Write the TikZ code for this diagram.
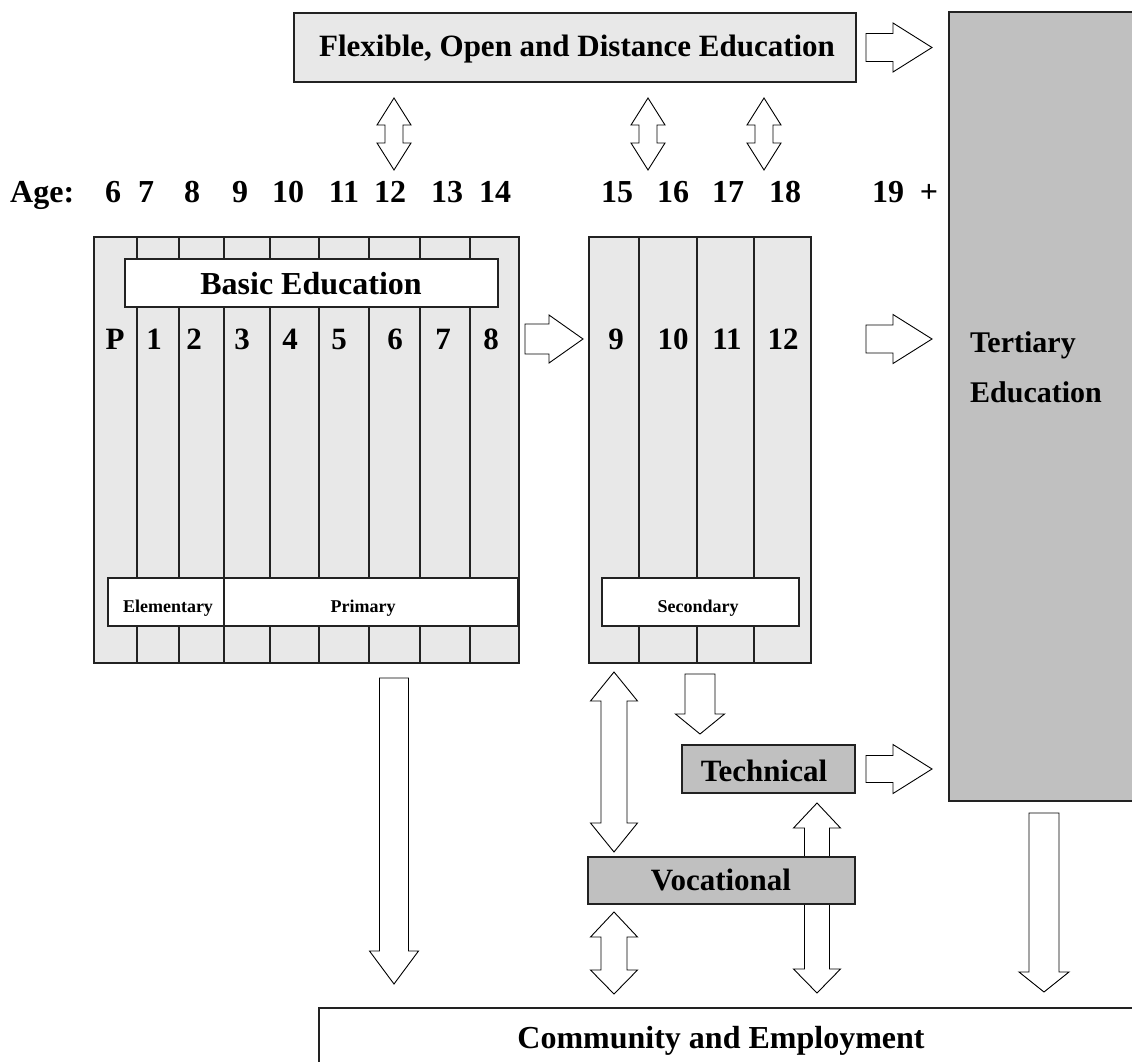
\documentclass[tikz,border=0pt]{standalone}
\usepackage{fontspec}
\setmainfont{Liberation Serif}
\definecolor{lightg}{HTML}{E8E8E8}
\definecolor{midg}{HTML}{C0C0C0}
\definecolor{edgec}{HTML}{222222}
\tikzset{
  edge/.style={draw=edgec, line width=1.3pt},
  lightbox/.style={edge, fill=lightg, inner sep=0pt},
  darkbox/.style={edge, fill=midg, inner sep=0pt},
  whitebox/.style={edge, fill=white, inner sep=0pt},
  colline/.style={draw=edgec, line width=1.1pt},
  blockarr/.style={draw=black, line width=0.9pt, fill=white, line join=miter},
  txt/.style={inner sep=0pt, anchor=base, font=\bfseries\fontsize{#1}{#1}\selectfont},
  txt/.default=32
}
% right-pointing block arrow: x start, x tip, y centre, body half, head half, head length
\newcommand\ArrR[6]{%
  \draw[blockarr] ({#1},{#3-#4}) -- ({#2-#6},{#3-#4}) -- ({#2-#6},{#3-#5}) -- ({#2},{#3})
    -- ({#2-#6},{#3+#5}) -- ({#2-#6},{#3+#4}) -- ({#1},{#3+#4}) -- cycle;}
% down-pointing block arrow: x centre, y start, y tip, body half, head half, head length
\newcommand\ArrD[6]{%
  \draw[blockarr] ({#1-#4},{#2}) -- ({#1+#4},{#2}) -- ({#1+#4},{#3-#6}) -- ({#1+#5},{#3-#6})
    -- ({#1},{#3}) -- ({#1-#5},{#3-#6}) -- ({#1-#4},{#3-#6}) -- cycle;}
% vertical double block arrow: x centre, y top tip, y bottom tip, body half, head half, top head len, bottom head len
\newcommand\ArrUD[7]{%
  \draw[blockarr] ({#1},{#2}) -- ({#1+#5},{#2+#6}) -- ({#1+#4},{#2+#6}) -- ({#1+#4},{#3-#7})
    -- ({#1+#5},{#3-#7}) -- ({#1},{#3}) -- ({#1-#5},{#3-#7}) -- ({#1-#4},{#3-#7})
    -- ({#1-#4},{#2+#6}) -- ({#1-#5},{#2+#6}) -- cycle;}
\begin{document}
\begin{tikzpicture}[x=1pt,y=-1pt]
\useasboundingbox (0,0) rectangle (1132,1062);
\clip (0,0) rectangle (1132,1062);

% main boxes
\node[lightbox, minimum width=562pt, minimum height=69pt] (flex) at (575,47.5) {};
\node[darkbox, minimum width=201pt, minimum height=789pt] (tert) at (1049.5,406.5) {};
\node[whitebox, minimum width=831pt, minimum height=72pt] (comm) at (734.5,1044) {};
\node[lightbox, minimum width=425pt, minimum height=426pt] (basic) at (306.5,450) {};
\node[lightbox, minimum width=222pt, minimum height=426pt] (sec) at (700,450) {};

% column lines
\foreach \cx in {137,179,224,270,319,369,420,470}
  \draw[colline] (\cx,237) -- (\cx,663);
\foreach \cx in {639,697,754}
  \draw[colline] (\cx,237) -- (\cx,663);

% white label boxes
\node[whitebox, minimum width=373pt, minimum height=48pt] (basiced) at (311.5,283) {};
\node[whitebox, minimum width=116pt, minimum height=48pt] (elem) at (166,602) {};
\node[whitebox, minimum width=294pt, minimum height=48pt] (prim) at (371,602) {};
\node[whitebox, minimum width=197pt, minimum height=48pt] (secbox) at (700.5,602) {};

% technical box
\node[darkbox, minimum width=173pt, minimum height=48pt] (tech) at (768.5,769) {};

% arrows
\ArrR{866}{932}{47.5}{14}{24.5}{39}
\ArrR{525}{583}{339}{15}{24}{34}
\ArrR{866}{932}{339}{14}{24.5}{39}
\ArrR{866}{932}{769}{13.5}{24.5}{39}
\ArrUD{394}{98}{170}{9}{17}{27}{27}
\ArrUD{648}{98}{170}{9}{17}{27}{27}
\ArrUD{764}{98}{170}{9}{17}{27}{27}
\ArrD{394}{678}{984}{14.5}{24.5}{33}
\ArrD{700}{674}{734}{15}{24.5}{20}
\ArrUD{614}{672}{852}{13}{23.5}{29}{29}
\ArrUD{614}{912}{994}{13}{23.5}{25}{24}
\ArrUD{817}{803}{993}{12.5}{23.5}{25}{24}
\ArrD{1044}{813}{992}{15}{25}{20}

% vocational box (on top of the long double arrow)
\node[darkbox, minimum width=267pt, minimum height=47pt] (voc) at (721.5,880.5) {};

% labels
\node[txt=31] (flexlab) at (577,57) {Flexible, Open and Distance Education};
\node[txt=32] (basiclab) at (311,294) {Basic Education};
\node[txt=18] (elemlab) at (168,612) {Elementary};
\node[txt=18] (primlab) at (363,612) {Primary};
\node[txt=18] (seclab) at (698,612) {Secondary};
\node[txt=31] (techlab) at (764,781) {Technical};
\node[txt=31] (voclab) at (721,890) {Vocational};
\node[txt=32] (commlab) at (721,1048) {Community and Employment};
\node[txt=30, anchor=base west] (tertlab1) at (970,352) {Tertiary};
\node[txt=30, anchor=base west] (tertlab2) at (970,402) {Education};

% age row
\node[txt=32, anchor=base west] (agelab) at (10,202) {Age:};
\foreach \a/\ax in {6/113,7/146,8/192,9/240,10/288,11/344,12/390,13/447,14/495,15/617,16/673,17/728,18/785,19/888}
  \node[txt=32] (age\a) at (\ax,202) {\a};
\node[txt=32] (ageplus) at (929,202) {+};

% grade row
\foreach \g/\gx in {P/115,1/154,2/194,3/242,4/290,5/339,6/395,7/443,8/491,9/616,10/673,11/727,12/783}
  \node[txt=31] (grade\g) at (\gx,349) {\g};
\end{tikzpicture}
\end{document}
